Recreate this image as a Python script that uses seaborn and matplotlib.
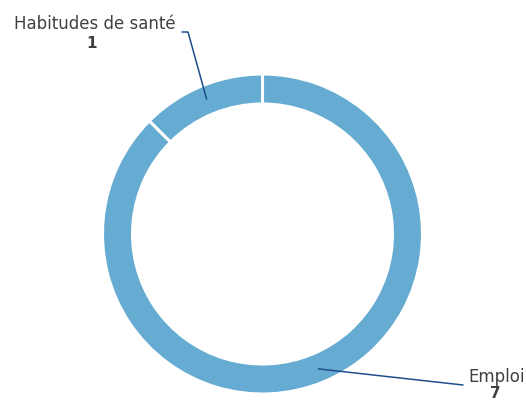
import numpy as np
import matplotlib
matplotlib.use('Agg')
import matplotlib.pyplot as plt
import seaborn as sns

# Données
categories = ['Emploi', 'Habitudes de santé']
valeurs = [7, 1]

sns.set_theme(style='white')
plt.rcParams['font.family'] = ['DejaVu Sans']

couleur = '#66abd2'
couleur_ligne = '#1f4e8c'
couleur_texte = '#404040'

fig = plt.figure(figsize=(5.26, 4.01), dpi=100)
ax = fig.add_axes([0, 0, 1, 1])

cx, cy = 262.5, 401 - 234
r = 160
largeur = 30

wedges, _ = ax.pie(valeurs, colors=[couleur] * len(valeurs), startangle=90,
                   counterclock=False, radius=r, center=(cx, cy),
                   wedgeprops=dict(width=largeur, edgecolor='white', linewidth=2.2),
                   frame=True)
ax.set_xlim(0, 526)
ax.set_ylim(0, 401)
ax.set_aspect('equal')
ax.axis('off')

# Étiquettes avec lignes de rappel
r_ancre = r - 14
for w, cat, val in zip(wedges, categories, valeurs):
    ang = np.deg2rad((w.theta1 + w.theta2) / 2)
    x0 = cx + r_ancre * np.cos(ang)
    y0 = cy + r_ancre * np.sin(ang)
    if cat == 'Emploi':
        ax.plot([x0, 463], [y0, 401 - 385], color=couleur_ligne, lw=1.1)
        ax.text(468, 401 - 377, cat, ha='left', va='center', fontsize=12,
                color=couleur_texte)
        ax.text(495, 401 - 393, str(val), ha='center', va='center', fontsize=11,
                fontweight='bold', color=couleur_texte)
    else:
        ax.plot([x0, 188, 182], [y0, 401 - 32, 401 - 32], color=couleur_ligne, lw=1.1)
        ax.text(176, 401 - 24, cat, ha='right', va='center', fontsize=12,
                color=couleur_texte)
        ax.text(92, 401 - 44, str(val), ha='center', va='center', fontsize=11,
                fontweight='bold', color=couleur_texte)

fig.savefig('out.png', dpi=100)
